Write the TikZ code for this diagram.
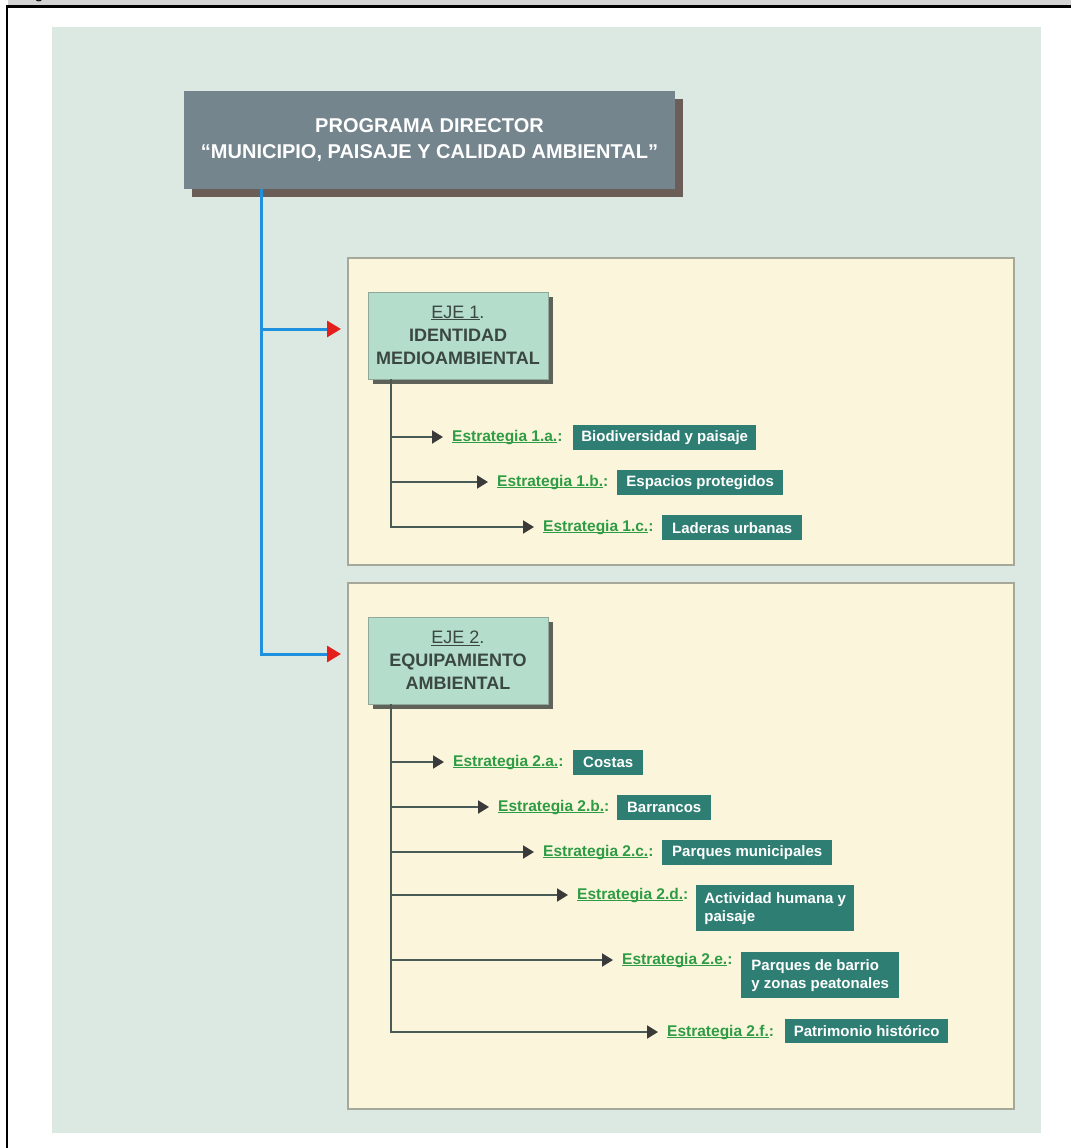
\documentclass[tikz,border=0pt]{standalone}
\usepackage{fontspec}
\setmainfont{Liberation Sans}
\usetikzlibrary{arrows.meta,shadows}
\definecolor{panelbg}{HTML}{DCE9E2}
\definecolor{yellowbg}{HTML}{FBF6DB}
\definecolor{yellowborder}{HTML}{A6A89A}
\definecolor{titlefill}{HTML}{74858E}
\definecolor{titleshadow}{HTML}{6B5E58}
\definecolor{mint}{HTML}{B4DDCB}
\definecolor{mintborder}{HTML}{8FA89C}
\definecolor{ejeshadow}{HTML}{5E6259}
\definecolor{ejetext}{HTML}{3B4842}
\definecolor{boxteal}{HTML}{2F7E73}
\definecolor{stratgreen}{HTML}{2E9C44}
\definecolor{spinec}{HTML}{4A5A57}
\definecolor{arrowdark}{HTML}{3A3A3A}
\definecolor{bluec}{HTML}{1E90DD}
\definecolor{arrowred}{HTML}{E3201B}
\definecolor{bandgray}{HTML}{D3D3D3}
\newcommand\myul[1]{\setbox0\hbox{#1}\rlap{\rule[-1.8pt]{\wd0}{1pt}}\box0}
\begin{document}
\begin{tikzpicture}[x=1pt,y=-1pt,
  titlebox/.style={fill=titlefill, draw=none, minimum width=491pt, minimum height=98pt,
    inner sep=0pt, align=center, text=white, font=\fontsize{20}{26}\selectfont\bfseries,
    general shadow={fill=titleshadow, shadow xshift=8pt, shadow yshift=-8pt}},
  ejebox/.style={fill=mint, draw=mintborder, line width=0.8pt, minimum width=180pt,
    minimum height=87pt, inner sep=0pt, align=center, text=ejetext,
    font=\fontsize{18}{23}\selectfont,
    general shadow={fill=ejeshadow, shadow xshift=5pt, shadow yshift=-5pt}},
  zonebox/.style={anchor=north west, fill=yellowbg, draw=yellowborder, line width=1.5pt, inner sep=0pt},
  slabel/.style={anchor=west, inner sep=0pt, text=stratgreen,
    font=\fontsize{15.5}{19}\selectfont\bfseries, text height=11pt, text depth=3pt},
  sbox/.style={anchor=north west, fill=boxteal, text=white, inner xsep=6pt, inner ysep=0pt,
    minimum height=25pt, align=left, font=\fontsize{15}{18}\selectfont\bfseries},
  spine/.style={draw=spinec, line width=2pt},
  sarrow/.style={spine, -{Triangle[length=11pt,width=13pt,color=arrowdark]}, shorten >=9pt},
  bline/.style={draw=bluec, line width=3pt},
  barrow/.style={bline, -{Triangle[length=14pt,width=16pt,color=arrowred]}},
]
\useasboundingbox (0,0) rectangle (1071,1148);
\fill[white] (0,0) rectangle (1071,1148);
% top band and frame
\fill[bandgray] (8,0) rectangle (1071,5.5);
\begin{scope}
  \clip (8,0) rectangle (1071,5.5);
  \node[anchor=base, inner sep=0pt, font=\fontsize{16}{16}\selectfont] (gfrag) at (39,-1.5) {g};
\end{scope}
\fill[black] (6,5.5) rectangle (1071,8);
\fill[black] (6,5.5) rectangle (8.3,1148);
% panel
\fill[panelbg] (52,27) rectangle (1041,1133);
% zones
\node[zonebox, minimum width=666pt, minimum height=307pt] (z1) at (347,257) {};
\node[zonebox, minimum width=666pt, minimum height=526pt] (z2) at (347,582) {};
% title
\node[titlebox] (title) at (429.5,140) {PROGRAMA DIRECTOR\\``MUNICIPIO, PAISAJE Y CALIDAD AMBIENTAL''};
% ejes
\node[ejebox] (eje1) at (458,335.5) {\myul{EJE 1}.\\\textbf{IDENTIDAD}\\\textbf{MEDIOAMBIENTAL}};
\node[ejebox] (eje2) at (458,660.5) {\myul{EJE 2}.\\\textbf{EQUIPAMIENTO}\\\textbf{AMBIENTAL}};
% blue connectors
\coordinate (jx) at (261,0);
\coordinate (t1) at (341,329);
\coordinate (t2) at (341,654);
\draw[barrow] (title.south -| jx) |- (t2);
\draw[barrow] (jx |- t1) -- (t1);
% strategy labels
\node[slabel] (l1a) at (452,437) {\myul{Estrategia 1.a.}:};
\node[slabel] (l1b) at (497,482) {\myul{Estrategia 1.b.}:};
\node[slabel] (l1c) at (543,527) {\myul{Estrategia 1.c.}:};
\node[slabel] (l2a) at (453,762) {\myul{Estrategia 2.a.}:};
\node[slabel] (l2b) at (498,807) {\myul{Estrategia 2.b.}:};
\node[slabel] (l2c) at (543,852) {\myul{Estrategia 2.c.}:};
\node[slabel] (l2d) at (577,895) {\myul{Estrategia 2.d.}:};
\node[slabel] (l2e) at (622,960) {\myul{Estrategia 2.e.}:};
\node[slabel] (l2f) at (667,1032) {\myul{Estrategia 2.f.}:};
% strategy boxes
\node[sbox, minimum width=183pt] (b1a) at (573,425) {Biodiversidad y paisaje};
\node[sbox, minimum width=166pt] (b1b) at (617,470) {Espacios protegidos};
\node[sbox, minimum width=140pt] (b1c) at (662,515) {Laderas urbanas};
\node[sbox, minimum width=70pt] (b2a) at (573,750) {Costas};
\node[sbox, minimum width=94pt] (b2b) at (617,795) {Barrancos};
\node[sbox, minimum width=170pt] (b2c) at (662,840) {Parques municipales};
\node[sbox, minimum width=158pt, minimum height=46pt] (b2d) at (696,885) {Actividad humana y\\paisaje};
\node[sbox, minimum width=158pt, minimum height=46pt] (b2e) at (741,952) {Parques de barrio\\y zonas peatonales};
\node[sbox, minimum width=163pt, minimum height=24pt] (b2f) at (785,1019) {Patrimonio hist\'orico};
% spines
\coordinate (v) at (391,0);
\draw[sarrow] (eje1.south -| v) |- (l1c.west);
\draw[sarrow] (v |- l1a.west) -- (l1a.west);
\draw[sarrow] (v |- l1b.west) -- (l1b.west);
\draw[sarrow] (eje2.south -| v) |- (l2f.west);
\draw[sarrow] (v |- l2a.west) -- (l2a.west);
\draw[sarrow] (v |- l2b.west) -- (l2b.west);
\draw[sarrow] (v |- l2c.west) -- (l2c.west);
\draw[sarrow] (v |- l2d.west) -- (l2d.west);
\draw[sarrow] (v |- l2e.west) -- (l2e.west);
\end{tikzpicture}
\end{document}
